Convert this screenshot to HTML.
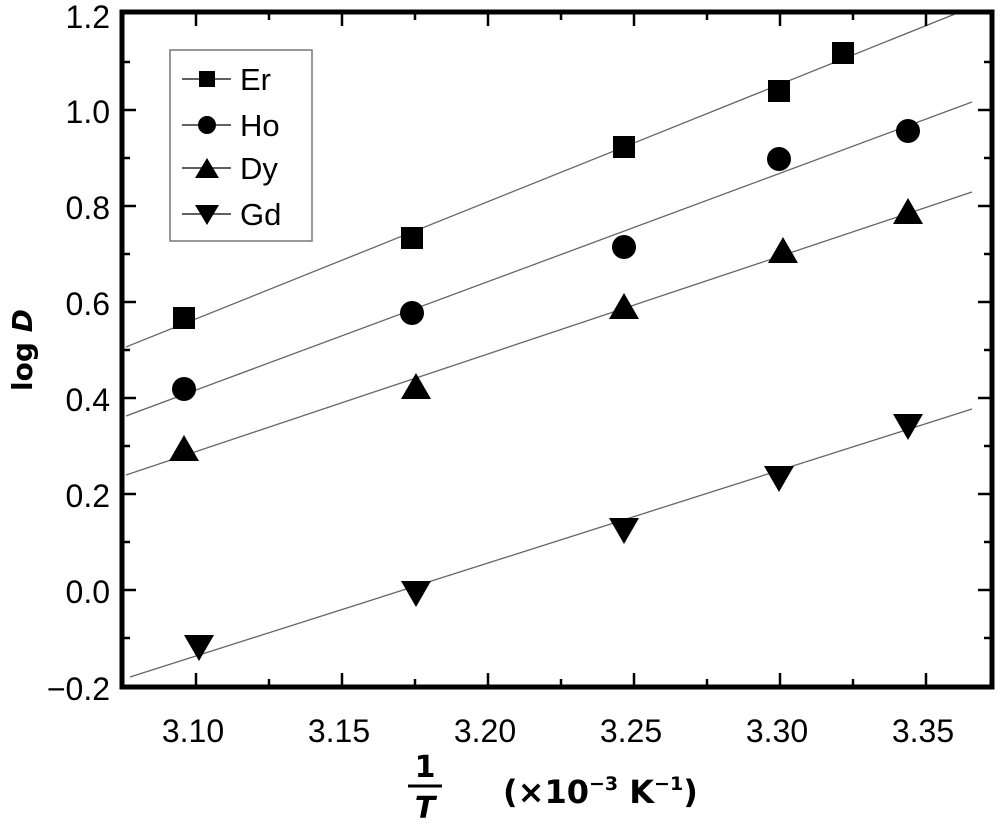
<!DOCTYPE html>
<html><head><style>body{margin:0;background:#fff}svg{display:block}</style></head><body>
<svg width="1000" height="834" xmlns="http://www.w3.org/2000/svg" font-family="Liberation Sans, DejaVu Sans, sans-serif">
<g stroke="#666" stroke-width="1.3">
<line x1="126" y1="347" x2="955" y2="14"/>
<line x1="126" y1="416" x2="972" y2="102"/>
<line x1="126" y1="475" x2="972" y2="192"/>
<line x1="130" y1="677" x2="972" y2="409"/>
</g>
<g stroke="#000" stroke-width="2.5">
<line x1="196" y1="687" x2="196" y2="673"/><line x1="269" y1="687" x2="269" y2="679"/>
<line x1="342" y1="687" x2="342" y2="673"/><line x1="415" y1="687" x2="415" y2="679"/>
<line x1="488" y1="687" x2="488" y2="673"/><line x1="561" y1="687" x2="561" y2="679"/>
<line x1="634" y1="687" x2="634" y2="673"/><line x1="707" y1="687" x2="707" y2="679"/>
<line x1="780" y1="687" x2="780" y2="673"/><line x1="853" y1="687" x2="853" y2="679"/>
<line x1="926" y1="687" x2="926" y2="673"/>
<line x1="196" y1="12" x2="196" y2="26"/><line x1="269" y1="12" x2="269" y2="20"/>
<line x1="342" y1="12" x2="342" y2="26"/><line x1="415" y1="12" x2="415" y2="20"/>
<line x1="488" y1="12" x2="488" y2="26"/><line x1="561" y1="12" x2="561" y2="20"/>
<line x1="634" y1="12" x2="634" y2="26"/><line x1="707" y1="12" x2="707" y2="20"/>
<line x1="780" y1="12" x2="780" y2="26"/><line x1="853" y1="12" x2="853" y2="20"/>
<line x1="926" y1="12" x2="926" y2="26"/>
</g>
<g stroke="#000" stroke-width="2.5" id="yt">
<line x1="122" y1="638" x2="130" y2="638"/><line x1="122" y1="590" x2="136" y2="590"/>
<line x1="122" y1="542" x2="130" y2="542"/><line x1="122" y1="494" x2="136" y2="494"/>
<line x1="122" y1="446" x2="130" y2="446"/><line x1="122" y1="398" x2="136" y2="398"/>
<line x1="122" y1="350" x2="130" y2="350"/><line x1="122" y1="302" x2="136" y2="302"/>
<line x1="122" y1="254" x2="130" y2="254"/><line x1="122" y1="206" x2="136" y2="206"/>
<line x1="122" y1="158" x2="130" y2="158"/><line x1="122" y1="110" x2="136" y2="110"/>
<line x1="122" y1="62" x2="130" y2="62"/>
</g>
<use href="#yt" transform="translate(1114,0) scale(-1,1)"/>
<rect x="122" y="12" width="870" height="675" fill="none" stroke="#000" stroke-width="5"/>
<g font-size="32" text-anchor="end">
<text x="110" y="700">−0.2</text><text x="110" y="603">0.0</text><text x="110" y="507">0.2</text>
<text x="110" y="411">0.4</text><text x="110" y="315">0.6</text><text x="110" y="219">0.8</text>
<text x="110" y="123">1.0</text><text x="110" y="28">1.2</text>
</g>
<g font-size="32" text-anchor="middle">
<text x="193" y="742">3.10</text><text x="339" y="742">3.15</text><text x="485" y="742">3.20</text>
<text x="631" y="742">3.25</text><text x="777" y="742">3.30</text><text x="923" y="742">3.35</text>
</g>
<text transform="translate(32,350) rotate(-90)" font-size="28" font-weight="bold" text-anchor="middle" font-family="DejaVu Sans, sans-serif">log <tspan font-style="italic">D</tspan></text>
<g font-weight="bold" font-family="DejaVu Sans, sans-serif">
<text x="425" y="777" text-anchor="middle" font-size="30">1</text>
<line x1="408" y1="786" x2="442" y2="786" stroke="#000" stroke-width="3"/>
<text x="425" y="818" text-anchor="middle" font-style="italic" font-size="30">T</text>
<text x="503" y="803" font-size="32">(×10<tspan font-size="19" dy="-13">−3</tspan><tspan dy="13"> K</tspan><tspan font-size="19" dy="-13">−1</tspan><tspan dy="13">)</tspan></text>
</g>
<g fill="#000">
<rect x="173" y="307" width="22" height="22"/><rect x="401" y="227" width="22" height="22"/>
<rect x="613" y="136" width="22" height="22"/><rect x="768" y="80" width="22" height="22"/>
<rect x="832" y="42" width="22" height="22"/>
<circle cx="184" cy="389" r="12"/><circle cx="412" cy="313" r="12"/><circle cx="624" cy="247" r="12"/>
<circle cx="779" cy="159" r="12"/><circle cx="908" cy="131" r="12"/>
<path d="M184,435 l15,26 h-30z"/><path d="M416,373 l15,26 h-30z"/><path d="M624,293 l15,26 h-30z"/>
<path d="M783,237 l15,26 h-30z"/><path d="M908,198 l15,26 h-30z"/>
<path d="M199,661 l15,-26 h-30z"/><path d="M416,607 l15,-26 h-30z"/><path d="M624,544 l15,-26 h-30z"/>
<path d="M779,492 l15,-26 h-30z"/><path d="M908,440 l15,-26 h-30z"/>
</g>
<rect x="170" y="50" width="142" height="191" fill="#fff" stroke="#777" stroke-width="1.5"/>
<g stroke="#000" stroke-width="1.3">
<line x1="182" y1="79" x2="231" y2="79"/><line x1="182" y1="125" x2="231" y2="125"/>
<line x1="182" y1="168" x2="231" y2="168"/><line x1="182" y1="214" x2="231" y2="214"/>
</g>
<g fill="#000">
<rect x="199" y="71" width="16" height="16"/><circle cx="207" cy="125" r="9"/>
<path d="M207,158 l12,20 h-24z"/><path d="M207,225 l12,-20 h-24z"/>
</g>
<g font-size="31">
<text x="240" y="90">Er</text><text x="240" y="136">Ho</text><text x="240" y="179">Dy</text><text x="240" y="225">Gd</text>
</g>
</svg>
</body></html>
